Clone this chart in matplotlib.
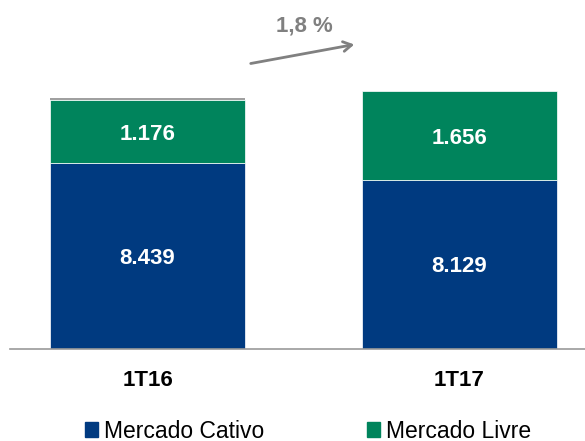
import matplotlib
matplotlib.use("Agg")
import matplotlib.pyplot as plt
from matplotlib.patches import Patch

plt.rcParams['font.family'] = ['Liberation Sans', 'DejaVu Sans']

periodos = ["1T16", "1T17"]
cativo = [8439, 8129]
livre = [1176, 1656]
outros = [35, 0]
cativo_labels = ["8.439", "8.129"]
livre_labels = ["1.176", "1.656"]
crescimento = "1,8 %"

c_cativo = "#003A80"
c_livre = "#00845C"
c_outros = "#A0A0A0"

fig = plt.figure(figsize=(5.85, 4.41), dpi=100)
ax = fig.add_axes([10/585, 92/441, 575/585, 349/441])

x = list(range(len(periodos)))
w = 0.625
base = 4989
ax.bar(x, [v - base for v in cativo], w, bottom=base, color=c_cativo,
       edgecolor="white", linewidth=0.5)
ax.bar(x, livre, w, bottom=cativo, color=c_livre, edgecolor="white", linewidth=0.5)
bot3 = [a + b for a, b in zip(cativo, livre)]
ax.bar(x, outros, w, bottom=bot3, color=c_outros, linewidth=0)

for i in x:
    ax.text(i, (base + cativo[i]) / 2 - 40, cativo_labels[i], ha="center", va="center",
            color="white", fontsize=16, fontweight="bold")
    ax.text(i, cativo[i] + livre[i] / 2 - 50, livre_labels[i], ha="center", va="center",
            color="white", fontsize=16, fontweight="bold")

ax.set_xlim(-0.4407, 1.402)
ax.set_ylim(base, base + 349 / 0.05384)

for s in ["top", "right", "left"]:
    ax.spines[s].set_visible(False)
ax.spines["bottom"].set_color("#999999")
ax.spines["bottom"].set_linewidth(1.2)
ax.set_yticks([])
ax.set_xticks(x)
ax.set_xticklabels(periodos, fontsize=16, fontweight="bold")
ax.tick_params(axis="x", length=0, pad=15)

# growth arrow (in figure pixel coords)
ax.annotate("", xy=(357/585, 1 - 44/441), xytext=(248/585, 1 - 64/441),
            xycoords="figure fraction", textcoords="figure fraction",
            arrowprops=dict(arrowstyle="->,head_length=0.6,head_width=0.35",
                            color="#808080", lw=2))
fig.text(304/585, 1 - 26/441, crescimento, ha="center", va="center",
         color="#808080", fontsize=16, fontweight="bold")

handles = [Patch(color=c_cativo, label="Mercado Cativo"),
           Patch(color=c_livre, label="Mercado Livre")]
fig.legend(handles=handles, loc="center left", bbox_to_anchor=(85/585, 1 - 431/441),
           ncol=2, frameon=False, fontsize=16.5, handlelength=0.57, handleheight=0.61,
           handletextpad=0.26, columnspacing=4.5, borderaxespad=0, borderpad=0)

fig.savefig("out.png", dpi=100)
